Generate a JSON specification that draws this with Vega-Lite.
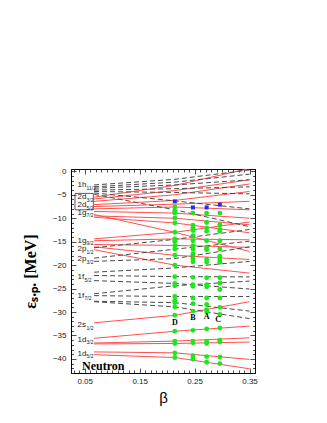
{
  "$schema": "https://vega.github.io/schema/vega-lite/v6.json",
  "width": 184,
  "height": 204,
  "autosize": {"type": "none"},
  "padding": {"left": 71, "top": 169, "right": 72, "bottom": 50},
  "background": "white",
  "config": {
    "view": {"stroke": "black", "strokeWidth": 1},
    "axis": {"grid": false, "domainColor": "black", "tickColor": "#222", "labelFont": "Liberation Sans", "labelFontSize": 8, "labelColor": "#222", "tickWidth": 0.8}
  },
  "datasets": {
    "lines": [
      {"id": "T1", "t": "p", "b": 0.067, "e": -5.5}, {"id": "T1", "t": "p", "b": 0.214, "e": -3.0}, {"id": "T1", "t": "p", "b": 0.35, "e": 0.6},
      {"id": "T2", "t": "p", "b": 0.067, "e": -5.9}, {"id": "T2", "t": "p", "b": 0.214, "e": -4.1}, {"id": "T2", "t": "p", "b": 0.35, "e": -1.8},
      {"id": "T3", "t": "p", "b": 0.067, "e": -6.4}, {"id": "T3", "t": "p", "b": 0.214, "e": -5.0}, {"id": "T3", "t": "p", "b": 0.35, "e": -2.7},
      {"id": "T4", "t": "p", "b": 0.067, "e": -7.1}, {"id": "T4", "t": "p", "b": 0.214, "e": -6.2}, {"id": "T4", "t": "p", "b": 0.35, "e": -4.3},
      {"id": "T5", "t": "p", "b": 0.067, "e": -7.5}, {"id": "T5", "t": "p", "b": 0.214, "e": -7.0}, {"id": "T5", "t": "p", "b": 0.35, "e": -6.4},
      {"id": "T6", "t": "p", "b": 0.067, "e": -8.0}, {"id": "T6", "t": "p", "b": 0.214, "e": -7.6}, {"id": "T6", "t": "p", "b": 0.35, "e": -8.2},
      {"id": "T7", "t": "p", "b": 0.067, "e": -8.55}, {"id": "T7", "t": "p", "b": 0.214, "e": -8.9}, {"id": "T7", "t": "p", "b": 0.35, "e": -10.0},
      {"id": "T8", "t": "p", "b": 0.067, "e": -9.5}, {"id": "T8", "t": "p", "b": 0.214, "e": -10.0}, {"id": "T8", "t": "p", "b": 0.35, "e": -11.4},
      {"id": "T9", "t": "p", "b": 0.067, "e": -9.8}, {"id": "T9", "t": "p", "b": 0.214, "e": -11.0}, {"id": "T9", "t": "p", "b": 0.35, "e": -13.1},
      {"id": "T10", "t": "p", "b": 0.067, "e": -9.2}, {"id": "T10", "t": "p", "b": 0.214, "e": -13.0}, {"id": "T10", "t": "p", "b": 0.35, "e": -17.1},
      {"id": "G1", "t": "p", "b": 0.067, "e": -14.4}, {"id": "G1", "t": "p", "b": 0.214, "e": -13.0}, {"id": "G1", "t": "p", "b": 0.35, "e": -10.8},
      {"id": "G2", "t": "p", "b": 0.067, "e": -14.8}, {"id": "G2", "t": "p", "b": 0.214, "e": -14.4}, {"id": "G2", "t": "p", "b": 0.35, "e": -14.6},
      {"id": "G3", "t": "p", "b": 0.067, "e": -15.6}, {"id": "G3", "t": "p", "b": 0.214, "e": -15.8}, {"id": "G3", "t": "p", "b": 0.35, "e": -16.2},
      {"id": "G4", "t": "p", "b": 0.067, "e": -16.1}, {"id": "G4", "t": "p", "b": 0.214, "e": -17.9}, {"id": "G4", "t": "p", "b": 0.35, "e": -18.8},
      {"id": "G5", "t": "p", "b": 0.067, "e": -16.7}, {"id": "G5", "t": "p", "b": 0.214, "e": -20.0}, {"id": "G5", "t": "p", "b": 0.35, "e": -21.7},
      {"id": "S1", "t": "p", "b": 0.067, "e": -32.3}, {"id": "S1", "t": "p", "b": 0.214, "e": -30.7}, {"id": "S1", "t": "p", "b": 0.35, "e": -27.8},
      {"id": "B1", "t": "p", "b": 0.067, "e": -35.6}, {"id": "B1", "t": "p", "b": 0.214, "e": -34.1}, {"id": "B1", "t": "p", "b": 0.35, "e": -33.0},
      {"id": "B2", "t": "p", "b": 0.067, "e": -36.6}, {"id": "B2", "t": "p", "b": 0.214, "e": -36.2}, {"id": "B2", "t": "p", "b": 0.35, "e": -35.5},
      {"id": "B3", "t": "p", "b": 0.067, "e": -36.8}, {"id": "B3", "t": "p", "b": 0.214, "e": -36.7}, {"id": "B3", "t": "p", "b": 0.35, "e": -36.4},
      {"id": "B4", "t": "p", "b": 0.067, "e": -38.5}, {"id": "B4", "t": "p", "b": 0.214, "e": -38.7}, {"id": "B4", "t": "p", "b": 0.35, "e": -40.1},
      {"id": "B5", "t": "p", "b": 0.067, "e": -39.1}, {"id": "B5", "t": "p", "b": 0.214, "e": -39.7}, {"id": "B5", "t": "p", "b": 0.35, "e": -42.1},
      {"id": "H1", "t": "n", "b": 0.067, "e": -2.9}, {"id": "H1", "t": "n", "b": 0.214, "e": -1.7}, {"id": "H1", "t": "n", "b": 0.35, "e": 0.3},
      {"id": "H2", "t": "n", "b": 0.067, "e": -3.3}, {"id": "H2", "t": "n", "b": 0.214, "e": -2.3}, {"id": "H2", "t": "n", "b": 0.35, "e": -0.6},
      {"id": "H3", "t": "n", "b": 0.067, "e": -3.6}, {"id": "H3", "t": "n", "b": 0.214, "e": -2.9}, {"id": "H3", "t": "n", "b": 0.35, "e": -1.8},
      {"id": "H4", "t": "n", "b": 0.067, "e": -4.0}, {"id": "H4", "t": "n", "b": 0.214, "e": -3.7}, {"id": "H4", "t": "n", "b": 0.35, "e": -3.3},
      {"id": "H5", "t": "n", "b": 0.067, "e": -4.3}, {"id": "H5", "t": "n", "b": 0.214, "e": -4.5}, {"id": "H5", "t": "n", "b": 0.35, "e": -4.8},
      {"id": "H6", "t": "n", "b": 0.067, "e": -4.6}, {"id": "H6", "t": "n", "b": 0.214, "e": -6.3}, {"id": "H6", "t": "n", "b": 0.35, "e": -8.0},
      {"id": "H7", "t": "n", "b": 0.067, "e": -4.9}, {"id": "H7", "t": "n", "b": 0.214, "e": -8.2}, {"id": "H7", "t": "n", "b": 0.35, "e": -11.8},
      {"id": "P1", "t": "n", "b": 0.067, "e": -16.3}, {"id": "P1", "t": "n", "b": 0.214, "e": -14.5}, {"id": "P1", "t": "n", "b": 0.35, "e": -12.4},
      {"id": "P2", "t": "n", "b": 0.067, "e": -18.5}, {"id": "P2", "t": "n", "b": 0.214, "e": -16.6}, {"id": "P2", "t": "n", "b": 0.35, "e": -14.9},
      {"id": "P3", "t": "n", "b": 0.067, "e": -19.2}, {"id": "P3", "t": "n", "b": 0.214, "e": -18.6}, {"id": "P3", "t": "n", "b": 0.35, "e": -16.1},
      {"id": "F1", "t": "n", "b": 0.067, "e": -21.5}, {"id": "F1", "t": "n", "b": 0.214, "e": -20.6}, {"id": "F1", "t": "n", "b": 0.35, "e": -19.2},
      {"id": "F2", "t": "n", "b": 0.067, "e": -22.2}, {"id": "F2", "t": "n", "b": 0.214, "e": -22.45}, {"id": "F2", "t": "n", "b": 0.35, "e": -22.5},
      {"id": "F3", "t": "n", "b": 0.067, "e": -23.3}, {"id": "F3", "t": "n", "b": 0.214, "e": -23.9}, {"id": "F3", "t": "n", "b": 0.35, "e": -25.1},
      {"id": "F4", "t": "n", "b": 0.067, "e": -26.1}, {"id": "F4", "t": "n", "b": 0.214, "e": -24.4}, {"id": "F4", "t": "n", "b": 0.35, "e": -23.4},
      {"id": "F5", "t": "n", "b": 0.067, "e": -26.5}, {"id": "F5", "t": "n", "b": 0.214, "e": -26.7}, {"id": "F5", "t": "n", "b": 0.35, "e": -26.7},
      {"id": "F6", "t": "n", "b": 0.067, "e": -27.7}, {"id": "F6", "t": "n", "b": 0.214, "e": -28.0}, {"id": "F6", "t": "n", "b": 0.35, "e": -29.8},
      {"id": "F7", "t": "n", "b": 0.067, "e": -27.8}, {"id": "F7", "t": "n", "b": 0.214, "e": -28.9}, {"id": "F7", "t": "n", "b": 0.35, "e": -31.4}
    ],
    "dots": [
      {"b": 0.214, "e": -7.6}, {"b": 0.214, "e": -8.55}, {"b": 0.214, "e": -8.9}, {"b": 0.214, "e": -9.96}, {"b": 0.214, "e": -11.0}, {"b": 0.214, "e": -13.0}, {"b": 0.214, "e": -14.4}, {"b": 0.214, "e": -14.9}, {"b": 0.214, "e": -15.8}, {"b": 0.214, "e": -16.55}, {"b": 0.214, "e": -17.9}, {"b": 0.214, "e": -20.0}, {"b": 0.214, "e": -22.45}, {"b": 0.214, "e": -23.9}, {"b": 0.214, "e": -24.4}, {"b": 0.214, "e": -26.7}, {"b": 0.214, "e": -27.5}, {"b": 0.214, "e": -28.0}, {"b": 0.214, "e": -28.9}, {"b": 0.214, "e": -30.7}, {"b": 0.214, "e": -34.1}, {"b": 0.214, "e": -36.2}, {"b": 0.214, "e": -36.7}, {"b": 0.214, "e": -38.7}, {"b": 0.214, "e": -39.7},
      {"b": 0.247, "e": -8.9}, {"b": 0.247, "e": -11.5}, {"b": 0.247, "e": -12.1}, {"b": 0.247, "e": -12.6}, {"b": 0.247, "e": -13.7}, {"b": 0.247, "e": -14.8}, {"b": 0.247, "e": -15.85}, {"b": 0.247, "e": -16.55}, {"b": 0.247, "e": -17.55}, {"b": 0.247, "e": -18.6}, {"b": 0.247, "e": -19.3}, {"b": 0.247, "e": -22.6}, {"b": 0.247, "e": -24.15}, {"b": 0.247, "e": -24.5}, {"b": 0.247, "e": -27.0}, {"b": 0.247, "e": -28.2}, {"b": 0.247, "e": -29.8}, {"b": 0.247, "e": -33.9}, {"b": 0.247, "e": -36.2}, {"b": 0.247, "e": -36.55}, {"b": 0.247, "e": -39.3}, {"b": 0.247, "e": -40.0},
      {"b": 0.272, "e": -8.9}, {"b": 0.272, "e": -10.9}, {"b": 0.272, "e": -12.1}, {"b": 0.272, "e": -12.8}, {"b": 0.272, "e": -14.8}, {"b": 0.272, "e": -16.3}, {"b": 0.272, "e": -16.7}, {"b": 0.272, "e": -18.8}, {"b": 0.272, "e": -19.4}, {"b": 0.272, "e": -22.7}, {"b": 0.272, "e": -24.15}, {"b": 0.272, "e": -24.6}, {"b": 0.272, "e": -27.0}, {"b": 0.272, "e": -28.4}, {"b": 0.272, "e": -29.5}, {"b": 0.272, "e": -30.0}, {"b": 0.272, "e": -33.6}, {"b": 0.272, "e": -36.2}, {"b": 0.272, "e": -36.7}, {"b": 0.272, "e": -39.5}, {"b": 0.272, "e": -40.7},
      {"b": 0.296, "e": -8.9}, {"b": 0.296, "e": -11.4}, {"b": 0.296, "e": -12.4}, {"b": 0.296, "e": -12.8}, {"b": 0.296, "e": -14.8}, {"b": 0.296, "e": -16.55}, {"b": 0.296, "e": -18.1}, {"b": 0.296, "e": -18.9}, {"b": 0.296, "e": -19.4}, {"b": 0.296, "e": -22.7}, {"b": 0.296, "e": -23.8}, {"b": 0.296, "e": -25.2}, {"b": 0.296, "e": -27.0}, {"b": 0.296, "e": -29.0}, {"b": 0.296, "e": -30.5}, {"b": 0.296, "e": -33.4}, {"b": 0.296, "e": -36.0}, {"b": 0.296, "e": -36.4}, {"b": 0.296, "e": -39.6}, {"b": 0.296, "e": -41.0}
    ],
    "blue": [
      {"b": 0.214, "e": -6.4}, {"b": 0.247, "e": -7.7}, {"b": 0.272, "e": -7.7}, {"b": 0.296, "e": -7.1}
    ],
    "labels": [
      {"main": "1h", "sub": "11/2", "b": 0.037, "e": -3.0},
      {"main": "2d", "sub": "3/2", "b": 0.037, "e": -5.5},
      {"main": "2d", "sub": "5/2", "b": 0.037, "e": -7.2},
      {"main": "1g", "sub": "7/2", "b": 0.037, "e": -8.8},
      {"main": "1g", "sub": "9/2", "b": 0.037, "e": -14.85},
      {"main": "2p", "sub": "1/2", "b": 0.037, "e": -16.6},
      {"main": "2p", "sub": "3/2", "b": 0.037, "e": -18.75},
      {"main": "1f", "sub": "5/2", "b": 0.037, "e": -22.6},
      {"main": "1f", "sub": "7/2", "b": 0.037, "e": -26.5},
      {"main": "2s", "sub": "1/2", "b": 0.037, "e": -32.8},
      {"main": "1d", "sub": "3/2", "b": 0.037, "e": -35.9},
      {"main": "1d", "sub": "5/2", "b": 0.037, "e": -38.9}
    ],
    "box": [{"b": 0.0323, "b2": 0.0656, "e": -4.7, "e2": -8.2}],
    "cols": [
      {"name": "D", "b": 0.214, "e": -32.3},
      {"name": "B", "b": 0.247, "e": -31.2},
      {"name": "A", "b": 0.272, "e": -31.1},
      {"name": "C", "b": 0.293, "e": -31.8}
    ],
    "tag": [{"name": "Neutron", "b": 0.045, "e": -41.6}]
  },
  "layer": [
    {
      "data": {"name": "lines"},
      "transform": [{"filter": "datum.t === 'p'"}],
      "mark": {"type": "line", "color": "#ff4f4f", "strokeWidth": 1, "clip": true},
      "encoding": {
        "x": {"field": "b", "type": "quantitative", "scale": {"domain": [0.025, 0.36], "nice": false, "zero": false},
          "axis": {"orient": "bottom", "values": [0.03, 0.04, 0.05, 0.06, 0.07, 0.08, 0.09, 0.10, 0.11, 0.12, 0.13, 0.14, 0.15, 0.16, 0.17, 0.18, 0.19, 0.20, 0.21, 0.22, 0.23, 0.24, 0.25, 0.26, 0.27, 0.28, 0.29, 0.30, 0.31, 0.32, 0.33, 0.34, 0.35],
            "labelExpr": "indexof(['0.05','0.15','0.25','0.35'], format(datum.value,'.2f')) >= 0 ? format(datum.value,'.2f') : ''",
            "tickSize": {"condition": {"test": "indexof(['0.05','0.15','0.25','0.35'], format(datum.value,'.2f')) >= 0", "value": -5}, "value": -3},
            "labelPadding": 9, "labelFlush": false, "labelOverlap": false,
            "title": "β", "titleFont": "Liberation Sans", "titleFontSize": 15, "titleFontWeight": "normal", "titleColor": "black", "titlePadding": 3}},
        "y": {"field": "e", "type": "quantitative", "scale": {"domain": [-43, 0.5], "nice": false, "zero": false},
          "axis": {"orient": "left", "values": [-43, -42, -41, -40, -39, -38, -37, -36, -35, -34, -33, -32, -31, -30, -29, -28, -27, -26, -25, -24, -23, -22, -21, -20, -19, -18, -17, -16, -15, -14, -13, -12, -11, -10, -9, -8, -7, -6, -5, -4, -3, -2, -1, 0],
            "labelExpr": "datum.value % 5 === 0 ? format(datum.value,'d') : ''",
            "tickSize": {"condition": {"test": "datum.value % 5 === 0", "value": -5}, "value": -2.5},
            "labelPadding": 10, "labelFlush": false, "labelOverlap": false,
            "title": "εₛ.ₚ. [MeV]", "titleFont": "Liberation Serif", "titleFontSize": 16, "titleFontWeight": "bold", "titleColor": "black", "titlePadding": 14}},
        "detail": {"field": "id"}
      }
    },
    {
      "data": {"name": "lines"},
      "transform": [{"filter": "datum.t === 'n'"}],
      "mark": {"type": "line", "color": "#4a4a4a", "strokeWidth": 1, "strokeDash": [5, 3], "clip": true},
      "encoding": {
        "x": {"field": "b", "type": "quantitative",
          "axis": {"orient": "top", "values": [0.03, 0.04, 0.05, 0.06, 0.07, 0.08, 0.09, 0.10, 0.11, 0.12, 0.13, 0.14, 0.15, 0.16, 0.17, 0.18, 0.19, 0.20, 0.21, 0.22, 0.23, 0.24, 0.25, 0.26, 0.27, 0.28, 0.29, 0.30, 0.31, 0.32, 0.33, 0.34, 0.35],
            "labels": false, "title": null,
            "tickSize": {"condition": {"test": "indexof(['0.05','0.15','0.25','0.35'], format(datum.value,'.2f')) >= 0", "value": -5}, "value": -3}}},
        "y": {"field": "e", "type": "quantitative",
          "axis": {"orient": "right", "values": [-43, -42, -41, -40, -39, -38, -37, -36, -35, -34, -33, -32, -31, -30, -29, -28, -27, -26, -25, -24, -23, -22, -21, -20, -19, -18, -17, -16, -15, -14, -13, -12, -11, -10, -9, -8, -7, -6, -5, -4, -3, -2, -1, 0],
            "labels": false, "title": null,
            "tickSize": {"condition": {"test": "datum.value % 5 === 0", "value": -5}, "value": -2.5}}},
        "detail": {"field": "id"}
      }
    },
    {
      "data": {"name": "dots"},
      "mark": {"type": "point", "filled": true, "color": "#1ee61e", "size": 24, "opacity": 1},
      "encoding": {
        "x": {"field": "b", "type": "quantitative", "axis": null},
        "y": {"field": "e", "type": "quantitative", "axis": null}
      }
    },
    {
      "data": {"name": "blue"},
      "mark": {"type": "point", "filled": true, "shape": "square", "color": "#2a2aee", "size": 16, "opacity": 1},
      "encoding": {
        "x": {"field": "b", "type": "quantitative", "axis": null},
        "y": {"field": "e", "type": "quantitative", "axis": null}
      }
    },
    {
      "data": {"name": "box"},
      "mark": {"type": "rect", "fill": null, "fillOpacity": 0, "stroke": "#333", "strokeWidth": 0.8},
      "encoding": {
        "x": {"field": "b", "type": "quantitative", "axis": null},
        "x2": {"field": "b2"},
        "y": {"field": "e", "type": "quantitative", "axis": null},
        "y2": {"field": "e2"}
      }
    },
    {
      "data": {"name": "labels"},
      "mark": {"type": "text", "align": "left", "baseline": "middle", "font": "Liberation Sans", "fontSize": 8, "color": "#222"},
      "encoding": {
        "x": {"field": "b", "type": "quantitative", "axis": null},
        "y": {"field": "e", "type": "quantitative", "axis": null},
        "text": {"field": "main"}
      }
    },
    {
      "data": {"name": "labels"},
      "transform": [{"filter": "datum.main !== '1f'"}],
      "mark": {"type": "text", "align": "left", "baseline": "middle", "font": "Liberation Sans", "fontSize": 5, "color": "#222", "dx": 9, "dy": 2.5},
      "encoding": {
        "x": {"field": "b", "type": "quantitative", "axis": null},
        "y": {"field": "e", "type": "quantitative", "axis": null},
        "text": {"field": "sub"}
      }
    },
    {
      "data": {"name": "labels"},
      "transform": [{"filter": "datum.main === '1f'"}],
      "mark": {"type": "text", "align": "left", "baseline": "middle", "font": "Liberation Sans", "fontSize": 5, "color": "#222", "dx": 7, "dy": 2.5},
      "encoding": {
        "x": {"field": "b", "type": "quantitative", "axis": null},
        "y": {"field": "e", "type": "quantitative", "axis": null},
        "text": {"field": "sub"}
      }
    },
    {
      "data": {"name": "cols"},
      "mark": {"type": "text", "align": "center", "baseline": "middle", "font": "Liberation Serif", "fontWeight": "bold", "fontSize": 8, "color": "black"},
      "encoding": {
        "x": {"field": "b", "type": "quantitative", "axis": null},
        "y": {"field": "e", "type": "quantitative", "axis": null},
        "text": {"field": "name"}
      }
    },
    {
      "data": {"name": "tag"},
      "mark": {"type": "text", "align": "left", "baseline": "middle", "font": "Liberation Serif", "fontWeight": "bold", "fontSize": 12, "color": "black"},
      "encoding": {
        "x": {"field": "b", "type": "quantitative", "axis": null},
        "y": {"field": "e", "type": "quantitative", "axis": null},
        "text": {"field": "name"}
      }
    }
  ],
  "resolve": {"axis": {"x": "independent", "y": "independent"}}
}
